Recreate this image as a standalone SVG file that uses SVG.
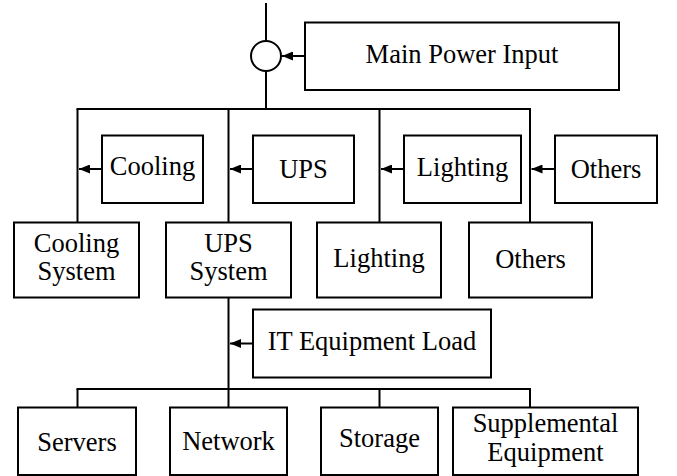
<svg xmlns="http://www.w3.org/2000/svg" width="677" height="476" viewBox="0 0 677 476">
<style>
.box{fill:#fff;stroke:#000;stroke-width:2}
.ln{fill:none;stroke:#000;stroke-width:2}
.arr{fill:none;stroke:#000;stroke-width:2;marker-end:url(#ah)}
text{font-size:26.5px;fill:#000;text-anchor:middle}
</style>
<defs>
<marker id="ah" markerUnits="userSpaceOnUse" markerWidth="11" markerHeight="9" refX="11" refY="4.5" orient="auto">
<path d="M0,0 L11,4.5 L0,9 z" fill="#000"/>
</marker>
</defs>
<g id="connectors">
<line class="ln" x1="266" y1="3" x2="266" y2="41"/>
<line class="ln" x1="266" y1="71" x2="266" y2="109"/>
<line class="ln" x1="76.5" y1="109" x2="531" y2="109"/>
<line class="ln" x1="77.5" y1="109" x2="77.5" y2="223"/>
<line class="ln" x1="228.5" y1="109" x2="228.5" y2="223"/>
<line class="ln" x1="379.5" y1="109" x2="379.5" y2="223"/>
<line class="ln" x1="530" y1="109" x2="530" y2="223"/>
<line class="ln" x1="228.5" y1="297" x2="228.5" y2="408"/>
<line class="ln" x1="76.5" y1="389" x2="531" y2="389"/>
<line class="ln" x1="77.5" y1="389" x2="77.5" y2="408"/>
<line class="ln" x1="379.5" y1="389" x2="379.5" y2="408"/>
<line class="ln" x1="530" y1="389" x2="530" y2="408"/>
<line class="arr" x1="305" y1="56" x2="282" y2="56"/>
<line class="arr" x1="102" y1="169" x2="79" y2="169"/>
<line class="arr" x1="253" y1="169" x2="230" y2="169"/>
<line class="arr" x1="404" y1="169" x2="381" y2="169"/>
<line class="arr" x1="555" y1="169" x2="531.5" y2="169"/>
<line class="arr" x1="253" y1="343.5" x2="230" y2="343.5"/>
</g>
<g id="junction"><circle class="ln" cx="266" cy="56" r="15"/></g>
<g font-family="Liberation Serif, DejaVu Serif, serif">
<g id="main-power-input"><rect class="box" x="305" y="22.5" width="314" height="67.5"/><text x="462" y="63">Main Power Input</text></g>
<g id="cooling"><rect class="box" x="102" y="135.5" width="101" height="67.5"/><text x="152.5" y="175">Cooling</text></g>
<g id="ups"><rect class="box" x="253" y="135.5" width="101" height="67.5"/><text x="303.5" y="178">UPS</text></g>
<g id="lighting"><rect class="box" x="404" y="135.5" width="117" height="67.5"/><text x="462.5" y="176">Lighting</text></g>
<g id="others"><rect class="box" x="555" y="135.5" width="102" height="67.5"/><text x="606" y="178">Others</text></g>
<g id="cooling-system"><rect class="box" x="14" y="222.5" width="125" height="75"/><text x="76.5" y="252">Cooling</text><text x="76.5" y="280">System</text></g>
<g id="ups-system"><rect class="box" x="166" y="222.5" width="125" height="75"/><text x="228.5" y="252">UPS</text><text x="228.5" y="280">System</text></g>
<g id="lighting-load"><rect class="box" x="317" y="222.5" width="124" height="75"/><text x="379" y="267">Lighting</text></g>
<g id="others-load"><rect class="box" x="469" y="222.5" width="123" height="75"/><text x="530.5" y="268">Others</text></g>
<g id="it-equipment-load"><rect class="box" x="253" y="309.5" width="238" height="68"/><text x="372" y="349.5">IT Equipment Load</text></g>
<g id="servers"><rect class="box" x="18" y="407.5" width="118" height="67.5"/><text x="77" y="450.5">Servers</text></g>
<g id="network"><rect class="box" x="170" y="407.5" width="117" height="67.5"/><text x="228.5" y="450">Network</text></g>
<g id="storage"><rect class="box" x="321" y="407.5" width="117" height="67.5"/><text x="379.5" y="447">Storage</text></g>
<g id="supplemental-equipment"><rect class="box" x="453" y="407.5" width="185" height="67.5"/><text x="545.5" y="432">Supplemental</text><text x="545.5" y="461">Equipment</text></g>
</g>
</svg>
